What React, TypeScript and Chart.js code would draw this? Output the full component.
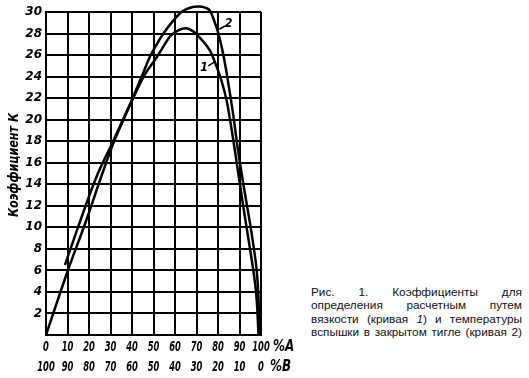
import React, { useEffect, useRef } from "react";
import { Chart, registerables } from "chart.js";

Chart.register(...registerables);

// ---- data ----
const xTicksA = ["0", "10", "20", "30", "40", "50", "60", "70", "80", "90", "100"];
const xTicksB = ["100", "90", "80", "70", "60", "50", "40", "30", "20", "10", "0"];
const unitA = "%A";
const unitB = "%B";
const yTitle = "Коэффициент К";

// curve 1 (viscosity)
const curve1X = [0, 10, 19, 25, 31.3, 36.5, 41, 46, 51.5, 54, 58, 61.5, 65, 68.5, 71.6, 76.3, 79.4, 81.8, 84, 85.6, 87.2, 88.7, 90.2, 91.7, 93.3, 94.9, 96.4, 97.7, 98.4, 98.8];
const curve1Y = [0, 5.9, 10.8, 14.3, 17.8, 20.2, 22.2, 24.2, 25.8, 26.6, 27.8, 28.3, 28.5, 28.2, 27.6, 26.4, 24.9, 23.5, 21.8, 20, 18, 16, 14, 12, 10, 8, 6, 4, 2, 0];

// curve 2 (flash point)
const curve2X = [8.8, 16.1, 23.5, 31, 36, 40.3, 44.5, 48.7, 51.5, 54.6, 59.2, 63, 67, 71, 74, 76.3, 78, 80.2, 82.5, 84.3, 85.9, 87.4, 88.7, 90.2, 91.8, 93.5, 95.2, 96.7, 98, 98.7, 99.1, 99.4];
const curve2Y = [6.5, 10.7, 14.7, 17.9, 20.1, 22, 24, 26, 27, 28, 29.2, 30, 30.4, 30.5, 30.4, 30.1, 29.3, 28, 26, 24, 22, 20, 18, 16, 14, 12, 10, 8, 6, 4, 2, 0];

const curveNames = ["1", "2"];

const captionLines = [
  "Рис. 1. Коэффициенты для",
  "определения расчетным путем",
  "вязкости (кривая 1) и температуры",
  "вспышки в закрытом тигле (кривая 2)",
];

const FONT = "'DejaVu Sans', 'Liberation Sans', sans-serif";

const toPoints = (xs: number[], ys: number[]) => xs.map((x, i) => ({ x, y: ys[i] }));

function squeezed(ctx: any, text: string, x: number, y: number, sx: number, align: string) {
  ctx.save();
  ctx.translate(x, y);
  ctx.scale(sx, 1);
  ctx.textAlign = align;
  ctx.fillText(text, 0, 0);
  ctx.restore();
}

const overlayPlugin = {
  id: "overlay",
  afterDraw(chart: any) {
    const { ctx, chartArea } = chart;
    const xs = chart.scales.x;
    const ys = chart.scales.y;
    ctx.save();
    ctx.fillStyle = "#000";
    ctx.strokeStyle = "#000";
    ctx.textBaseline = "middle";

    // y axis title (condensed, bold italic)
    ctx.save();
    ctx.translate(14, 165);
    ctx.rotate(-Math.PI / 2);
    ctx.font = `italic bold 14px ${FONT}`;
    const tw = ctx.measureText(yTitle).width;
    squeezed(ctx, yTitle, 0, 0, 104 / tw, "center");
    ctx.restore();

    // x tick labels, two rows (condensed)
    ctx.font = `italic bold 14px ${FONT}`;
    xTicksA.forEach((t, i) => {
      const px = xs.getPixelForValue(i * 10);
      squeezed(ctx, t, px, chartArea.bottom + 12, 0.6, "center");
      squeezed(ctx, xTicksB[i], px, chartArea.bottom + 32, 0.6, "center");
    });

    // units
    ctx.font = `italic bold 15px ${FONT}`;
    squeezed(ctx, unitA, chartArea.right + 12, chartArea.bottom + 12, 0.8, "left");
    squeezed(ctx, unitB, chartArea.right + 9, chartArea.bottom + 32, 0.8, "left");

    // curve labels with leaders
    const labels = [
      { t: curveNames[0], lx: 73.5, ly: 24.8, a: [75.5, 25.0], b: [78.6, 25.4] },
      { t: curveNames[1], lx: 84.9, ly: 28.9, a: [80.6, 28.4], b: [83.2, 28.7] },
    ];
    ctx.lineWidth = 1.5;
    ctx.font = `italic bold 13px ${FONT}`;
    ctx.textAlign = "center";
    labels.forEach((l) => {
      ctx.beginPath();
      ctx.moveTo(xs.getPixelForValue(l.a[0]), ys.getPixelForValue(l.a[1]));
      ctx.lineTo(xs.getPixelForValue(l.b[0]), ys.getPixelForValue(l.b[1]));
      ctx.stroke();
      squeezed(ctx, l.t, xs.getPixelForValue(l.lx), ys.getPixelForValue(l.ly), 0.85, "center");
    });
    ctx.restore();
  },
};

function ChartCanvas() {
  const ref = useRef<HTMLCanvasElement | null>(null);
  useEffect(() => {
    if (!ref.current) return;
    const tickFont = { family: FONT, size: 12, style: "italic" as const, weight: "bold" as const };
    const chart = new Chart(ref.current, {
      type: "line",
      data: {
        datasets: [
          {
            label: curveNames[0],
            data: toPoints(curve1X, curve1Y),
            borderColor: "#000",
            borderWidth: 2.5,
            pointRadius: 0,
            cubicInterpolationMode: "monotone",
            clip: false as any,
          },
          {
            label: curveNames[1],
            data: toPoints(curve2X, curve2Y),
            borderColor: "#000",
            borderWidth: 2.5,
            pointRadius: 0,
            cubicInterpolationMode: "monotone",
            clip: false as any,
          },
        ],
      },
      options: {
        responsive: false,
        animation: false,
        devicePixelRatio: 1,
        layout: { padding: { left: 0, right: 49, top: 12, bottom: 0 } },
        plugins: { legend: { display: false }, tooltip: { enabled: false } },
        scales: {
          x: {
            type: "linear",
            min: 0,
            max: 100,
            ticks: { stepSize: 10, autoSkip: false, display: false },
            grid: { color: "#000", lineWidth: 2, drawTicks: false },
            border: { display: true, color: "#000", width: 2 },
            afterFit: (s: any) => {
              s.height = 43;
            },
          },
          y: {
            min: 0,
            max: 30,
            ticks: {
              stepSize: 2,
              padding: 4,
              color: "#000",
              font: tickFont,
              callback: (v: any) => (v === 0 ? "" : String(v)),
            },
            grid: { color: "#000", lineWidth: 2, drawTicks: false },
            border: { display: true, color: "#000", width: 2 },
            afterFit: (s: any) => {
              s.width = 46;
            },
          },
        },
      },
      plugins: [overlayPlugin],
    });
    return () => chart.destroy();
  }, []);
  return (
    <canvas
      ref={ref}
      width={310}
      height={378}
      style={{ position: "absolute", left: 0, top: 0, width: 310, height: 378 }}
    />
  );
}

export default function App() {
  return (
    <div style={{ position: "fixed", left: 0, top: 0, width: 529, height: 378, background: "#fff", overflow: "hidden" }}>
      <ChartCanvas />
      <div
        style={{
          position: "absolute",
          left: 311,
          top: 286,
          width: 211,
          fontFamily: "'Liberation Sans', Arial, sans-serif",
          fontSize: 11.8,
          lineHeight: "13.4px",
          color: "#111",
        }}
      >
        {captionLines.map((line, li) => (
          <div key={li} style={{ display: "flex", justifyContent: "space-between", whiteSpace: "nowrap" }}>
            {line.split(" ").map((w, wi) =>
              li === 2 && w === "1)" ? (
                <span key={wi}>
                  <i>1</i>)
                </span>
              ) : (
                <span key={wi}>{w}</span>
              )
            )}
          </div>
        ))}
      </div>
    </div>
  );
}
